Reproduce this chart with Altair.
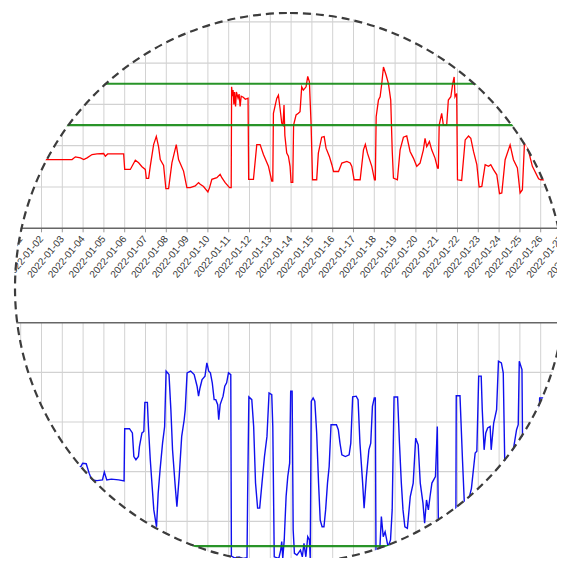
import altair as alt
import pandas as pd

# ---------------- data (days since 2022-01-01, value) ----------------
red_t = [0.0, 1.27, 2.47, 2.63, 2.87, 3.03, 3.19, 3.43, 3.67, 3.99, 4.07, 4.18, 4.95, 5.0, 5.27, 5.51, 5.67, 5.83,
         5.99, 6.04, 6.15, 6.23, 6.39, 6.52, 6.63, 6.71, 6.87, 6.98, 7.11, 7.27, 7.48, 7.59, 7.83, 7.99, 8.15, 8.39,
         8.55, 8.63, 8.79, 9.0, 9.08, 9.19, 9.43, 9.59, 9.67, 9.83, 10.04, 10.12, 10.14, 10.18, 10.21, 10.25, 10.28,
         10.33, 10.37, 10.45, 10.5, 10.55, 10.6, 10.7, 10.8, 10.93, 10.96, 11.19, 11.35, 11.51, 11.67, 11.91, 12.07,
         12.12, 12.15, 12.31, 12.39, 12.47, 12.55, 12.61, 12.66, 12.7, 12.79, 12.87, 12.95, 13.0, 13.08, 13.12, 13.24,
         13.35, 13.43, 13.51, 13.59, 13.72, 13.80, 13.88, 13.96, 14.03, 14.23, 14.31, 14.47, 14.59, 14.68, 14.84,
         14.96, 15.04, 15.28, 15.44, 15.68, 15.84, 15.92, 16.03, 16.32, 16.48, 16.57, 16.67, 16.88, 17.01, 17.05,
         17.09, 17.2, 17.28, 17.36, 17.44, 17.57, 17.68, 17.79, 17.86, 17.92, 18.11, 18.24, 18.4, 18.56, 18.72,
         18.88, 19.04, 19.2, 19.36, 19.44, 19.52, 19.65, 19.76, 19.92, 20.04, 20.08, 20.12, 20.24, 20.32, 20.48,
         20.56, 20.68, 20.77, 20.84, 20.88, 20.96, 21.0, 21.2, 21.37, 21.53, 21.64, 21.77, 21.93, 22.04, 22.17,
         22.33, 22.49, 22.6, 22.73, 22.89, 23.02, 23.13, 23.29, 23.53, 23.69, 23.88, 24.01, 24.12, 24.22, 24.35,
         24.6, 24.9, 25.0, 25.3, 25.5, 26.2]
red_v = [33.3, 33.3, 33.3, 34.6, 34.1, 33.3, 34.1, 35.7, 36.0, 36.2, 34.9, 36.0, 36.0, 28.5, 28.5, 33.0, 31.7, 29.8,
         28.5, 24.2, 24.2, 30.1, 40.5, 44.5, 39.4, 33.3, 30.4, 19.2, 19.2, 31.7, 40.5, 33.3, 27.7, 19.7, 19.7, 20.5,
         22.1, 21.3, 20.2, 17.6, 19.7, 23.7, 24.5, 26.1, 24.5, 22.1, 19.7, 19.7, 68.5, 64.0, 67.0, 60.0, 66.0,
         59.0, 66.0, 63.0, 65.0, 59.0, 64.0, 63.5, 62.5, 63.0, 23.7, 23.7, 40.5, 40.5, 35.7, 30.1, 22.9,
         22.9, 55.7, 62.9, 64.5, 58.0, 51.0, 50.0, 59.7, 45.0, 36.4, 34.9, 30.0, 22.2, 22.2, 50.0, 54.9,
         55.7, 56.5, 68.5, 66.9, 68.5, 73.6, 70.9, 50.8, 23.5, 23.5, 36.4, 44.1, 44.4, 38.8, 34.8,
         30.8, 27.5, 27.5, 31.6, 32.4, 31.6, 30.0, 23.5, 23.5, 38.0, 40.7, 36.4, 30.0, 23.5, 23.5,
         54.0, 62.1, 63.7, 70.1, 78.1, 74.1, 70.1, 62.1, 38.0, 24.3, 23.5, 38.0, 44.1, 44.7, 37.2,
         34.0, 30.0, 31.6, 38.0, 43.6, 39.6, 42.0, 38.0, 34.0, 29.2, 29.2, 50.0, 55.7, 50.0, 50.0,
         62.1, 63.7, 70.1, 73.3, 63.7, 65.3, 23.5, 23.2, 42.8, 44.7, 43.6, 37.2, 30.8, 20.0, 20.3,
         30.8, 30.0, 30.8, 28.4, 25.9, 16.8, 17.1, 33.2, 40.4, 33.2, 29.2, 17.1, 18.7, 41.2, 40.0,
         30.0, 24.0, 23.5, 23.5, 22.0, 22.0]

blue_t = [0.0, 2.89, 2.98, 3.15, 3.29, 3.41, 3.67, 3.93, 4.02, 4.14, 4.36, 4.71, 4.97, 5.0, 5.23, 5.37, 5.44, 5.54,
          5.66, 5.71, 5.83, 5.92, 5.97, 6.09, 6.14, 6.23, 6.32, 6.40, 6.53, 6.61, 6.70, 6.82, 6.92, 6.99, 7.13, 7.22,
          7.30, 7.43, 7.51, 7.62, 7.74, 7.86, 7.91, 8.00, 8.17, 8.34, 8.48, 8.55, 8.62, 8.72, 8.86, 8.95, 9.04, 9.12,
          9.21, 9.30, 9.38, 9.47, 9.52, 9.59, 9.73, 9.81, 9.90, 9.99, 10.10, 10.13, 10.3, 10.5, 10.7, 10.88, 10.91,
          10.97, 11.11, 11.2, 11.29, 11.39, 11.49, 11.60, 11.72, 11.84, 11.94, 12.07, 12.12, 12.19, 12.41, 12.5,
          12.55, 12.60, 12.67, 12.76, 12.84, 12.93, 12.98, 13.05, 13.1, 13.16, 13.28, 13.45, 13.54, 13.62, 13.71,
          13.8, 13.88, 13.92, 13.97, 14.06, 14.14, 14.23, 14.32, 14.4, 14.49, 14.58, 14.66, 14.75, 14.83, 14.92,
          15.18, 15.27, 15.35, 15.44, 15.61, 15.79, 15.87, 15.96, 16.13, 16.22, 16.31, 16.44, 16.51, 16.62, 16.74,
          16.83, 16.91, 17.0, 17.05, 17.08, 17.25, 17.34, 17.43, 17.52, 17.66, 17.78, 17.86, 17.95, 18.12, 18.21,
          18.3, 18.38, 18.47, 18.59, 18.73, 18.87, 18.99, 19.11, 19.21, 19.34, 19.42, 19.51, 19.60, 19.68, 19.77,
          19.94, 20.03, 20.08, 20.3, 20.6, 20.92, 20.94, 21.12, 21.24, 21.33, 21.46, 21.67, 21.85, 21.93, 22.02,
          22.14, 22.19, 22.28, 22.36, 22.45, 22.57, 22.62, 22.74, 22.88, 22.97, 23.11, 23.2, 23.27, 23.4, 23.6,
          23.71, 23.84, 23.92, 23.97, 24.1, 24.13, 24.5, 24.9, 24.95, 25.13, 26.2]
blue_v = [42.0, 42.0, 43.4, 43.2, 39.4, 36.7, 36.4, 36.7, 39.8, 36.7, 37.0, 36.7, 36.3, 57.3, 57.3, 55.6, 46.1, 44.8,
          46.1, 50.2, 55.6, 56.2, 67.9, 67.9, 58.2, 44.8, 34.0, 24.6, 17.8, 31.3, 40.7, 51.5, 58.2, 80.5, 79.1, 65.0,
          48.8, 34.0, 25.9, 38.0, 54.2, 60.9, 65.0, 79.8, 80.5, 79.1, 74.4, 70.4, 73.7, 77.1, 78.5, 83.8, 80.5, 79.8,
          75.8, 69.0, 69.0, 67.0, 60.9, 67.0, 70.4, 74.4, 75.8, 79.8, 79.1, 6.0, 5.2, 5.6, 5.0, 5.4, 30.0,
          70.1, 69.0, 58.2, 35.4, 25.3, 25.3, 35.4, 46.1, 54.2, 71.7, 71.0, 58.2, 5.7, 5.1, 8.4,
          11.8, 5.1, 12.5, 30.0, 38.0, 43.4, 72.4, 72.4, 16.5, 7.1, 6.4, 8.4, 5.7, 11.1, 5.7,
          13.8, 12.5, 5.1, 68.4, 69.7, 68.4, 55.6, 35.4, 20.5, 17.8, 17.8, 24.6, 35.4, 42.1, 58.9,
          58.9, 56.9, 51.5, 46.8, 46.1, 46.8, 51.5, 70.1, 70.4, 69.0, 51.5, 35.4, 25.3, 38.0, 48.8,
          51.5, 66.3, 69.7, 69.7, 8.4, 6.0, 21.9, 13.8, 15.8, 9.8, 12.5, 24.6, 70.1, 70.1, 51.5,
          35.4, 24.6, 17.8, 17.2, 30.0, 35.4, 53.5, 50.8, 35.4, 27.3, 19.2, 28.6, 24.6, 30.0, 35.4,
          38.0, 58.2, 19.9, 12.0, 10.0, 14.0, 70.6, 70.6, 44.8, 27.3, 25.9, 33.3, 47.5, 48.2, 78.5,
          78.5, 65.0, 48.8, 55.6, 57.6, 58.2, 48.8, 59.6, 65.0, 84.5, 83.8, 79.8, 44.8, 44.1, 42.0,
          50.2, 56.9, 58.9, 84.5, 81.1, 48.8, 45.0, 50.0, 69.7, 69.7, 68.0]

day_ticks = list(range(0, 28))          # 2022-01-01 ... 2022-01-28
top_grid = [20, 40, 60, 80, 100]
bottom_grid = [20, 40, 60, 80]
top_green = [50, 70]
bottom_green = [10]

# ---------------- helpers ----------------
BASE = pd.Timestamp("2022-01-01")


def to_time(days):
    return [BASE + pd.to_timedelta(d, unit="D") for d in days]


def dt(ts):
    return alt.DateTime(year=ts.year, month=ts.month, date=ts.day,
                        hours=ts.hour, minutes=ts.minute, seconds=ts.second)


W, H = 549, 550
AXIS_Y = 220.3  # plot-pixel row of the upper panel's date axis

xs = alt.Scale(domain=[dt(BASE + pd.to_timedelta(-0.6106, unit="D")),
                       dt(BASE + pd.to_timedelta(25.784, unit="D"))])
top_scale = alt.Scale(domain=[-159.66, 106.68], nice=False, zero=False)
bot_scale = alt.Scale(domain=[5.22, 226.77], nice=False, zero=False)

red_df = pd.DataFrame({"time": to_time(red_t), "v": red_v})
blue_df = pd.DataFrame({"time": to_time(blue_t), "v": blue_v})
days_df = pd.DataFrame({"time": to_time(day_ticks)})
one = pd.DataFrame({"a": [0]})

GRID = "#d2d2d2"
X = alt.X("time:T", scale=xs, axis=None)

vgrid_top = alt.Chart(days_df).mark_rule(color=GRID, strokeWidth=1).encode(
    x=X, y=alt.Y(datum=0, type="quantitative", scale=top_scale, axis=None), y2=alt.value(0))
vgrid_bot = alt.Chart(days_df).mark_rule(color=GRID, strokeWidth=1).encode(
    x=X, y=alt.Y(datum=100, type="quantitative", scale=bot_scale, axis=None), y2=alt.value(H))
hgrid_top = alt.Chart(pd.DataFrame({"v": top_grid})).mark_rule(color=GRID, strokeWidth=1.2).encode(
    y=alt.Y("v:Q", scale=top_scale, axis=None))
hgrid_bot = alt.Chart(pd.DataFrame({"v": bottom_grid})).mark_rule(color=GRID, strokeWidth=1.2).encode(
    y=alt.Y("v:Q", scale=bot_scale, axis=None))
ticks = alt.Chart(days_df).mark_rule(color="#999999", strokeWidth=1).encode(
    x=X, y=alt.value(AXIS_Y), y2=alt.value(AXIS_Y + 4))
frame_top = alt.Chart(one).mark_rule(color="#666666", strokeWidth=1.6).encode(
    y=alt.Y(datum=0, type="quantitative", scale=top_scale, axis=None))
frame_bot = alt.Chart(one).mark_rule(color="#666666", strokeWidth=1.6).encode(
    y=alt.Y(datum=100, type="quantitative", scale=bot_scale, axis=None))

date_labels = alt.Chart(days_df).mark_text(
    angle=310, align="right", baseline="middle", font="Liberation Sans", fontSize=10, color="#333333").encode(
    x=X, y=alt.value(AXIS_Y + 9), text=alt.Text("time:T", format="%Y-%m-%d"))

red_line = alt.Chart(red_df).mark_line(color="#ff0000", strokeWidth=1.3).encode(
    x=X, y=alt.Y("v:Q", scale=top_scale, axis=None))
blue_line = alt.Chart(blue_df).mark_line(color="#1010ee", strokeWidth=1.4).encode(
    x=X, y=alt.Y("v:Q", scale=bot_scale, axis=None))

green_top = alt.Chart(pd.DataFrame({"v": top_green})).mark_rule(color="#118811", strokeWidth=2.2, opacity=0.9).encode(
    y=alt.Y("v:Q", scale=top_scale, axis=None))
green_bot = alt.Chart(pd.DataFrame({"v": bottom_green})).mark_rule(color="#118811", strokeWidth=2.2, opacity=0.9).encode(
    y=alt.Y("v:Q", scale=bot_scale, axis=None))

CX, CY, R = 282, 280, 275
mask = alt.Chart(one).mark_arc(theta=0, theta2=6.2832, radius=460, radius2=R + 1, color="white").encode(
    x=alt.value(CX), y=alt.value(CY))
ring = alt.Chart(one).mark_arc(theta=0, theta2=6.2832, radius=R, filled=False, stroke="#3c3c3c",
                               strokeWidth=2.2, strokeDash=[8, 5]).encode(
    x=alt.value(CX), y=alt.value(CY))

chart = alt.layer(
    vgrid_top, vgrid_bot, hgrid_top, hgrid_bot, ticks, frame_top, frame_bot, date_labels,
    red_line, blue_line, green_top, green_bot, mask, ring
).resolve_scale(y="independent").properties(
    width=W, height=H, padding=0, autosize=alt.AutoSizeParams(type="none")
).configure_view(strokeWidth=0).configure(background="white")

chart.save("out.html", embed_options={"renderer": "svg", "actions": False})
